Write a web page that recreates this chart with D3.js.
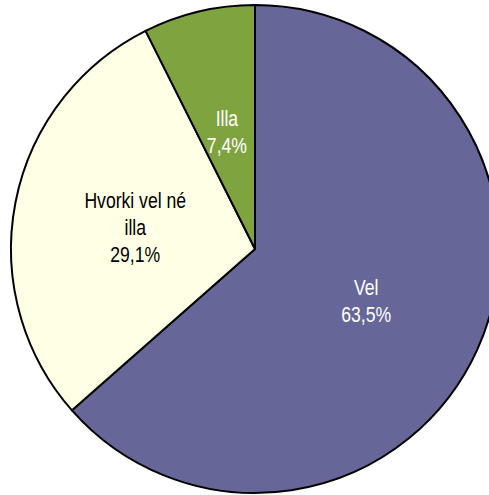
<!DOCTYPE html>
<html><head><meta charset="utf-8">
<script src="https://cdn.jsdelivr.net/npm/d3@7"></script>
<style>html,body{margin:0;padding:0;background:#fff;overflow:hidden}</style>
</head><body>
<svg id="c" width="489" height="495"></svg>
<script>
const categories = ["Vel", "Hvorki vel né illa", "Illa"];
const values = [63.5, 29.1, 7.4];
const labelLines = [["Vel", "63,5%"], ["Hvorki vel né", "illa", "29,1%"], ["Illa", "7,4%"]];
const colors = ["#666699", "#FFFFE6", "#7FA33F"];
const textColors = ["#ffffff", "#000000", "#ffffff"];

const svg = d3.select("#c");
const cx = 255, cy = 249, r = 244;
const g = svg.append("g").attr("transform", `translate(${cx},${cy})`);
const pie = d3.pie().sort(null).value(d => d.v);
const data = pie(categories.map((c, i) => ({c, v: values[i], i})));
const arc = d3.arc().innerRadius(0).outerRadius(r);
g.selectAll("path").data(data).join("path")
  .attr("d", arc).attr("fill", d => colors[d.data.i])
  .attr("stroke", "#000").attr("stroke-width", 2).attr("stroke-linejoin", "round");
const lab = d3.arc().innerRadius(r * 0.5).outerRadius(r * 0.5);
const fs = 22, lh = 27;
data.forEach(d => {
  const [x, y] = lab.centroid(d);
  const lines = labelLines[d.data.i];
  const t = g.append("text").attr("text-anchor", "middle")
    .attr("transform", `translate(${x},${y + 2}) scale(0.8,1)`)
    .attr("font-family", "'Liberation Sans Narrow','Arial Narrow','Liberation Sans',Arial,sans-serif")
    .attr("font-size", fs).attr("fill", textColors[d.data.i]);
  lines.forEach((l, k) => {
    t.append("tspan").attr("x", 0).attr("y", (k - (lines.length - 1) / 2) * lh + fs * 0.35).text(l);
  });
});
</script>
</body></html>
